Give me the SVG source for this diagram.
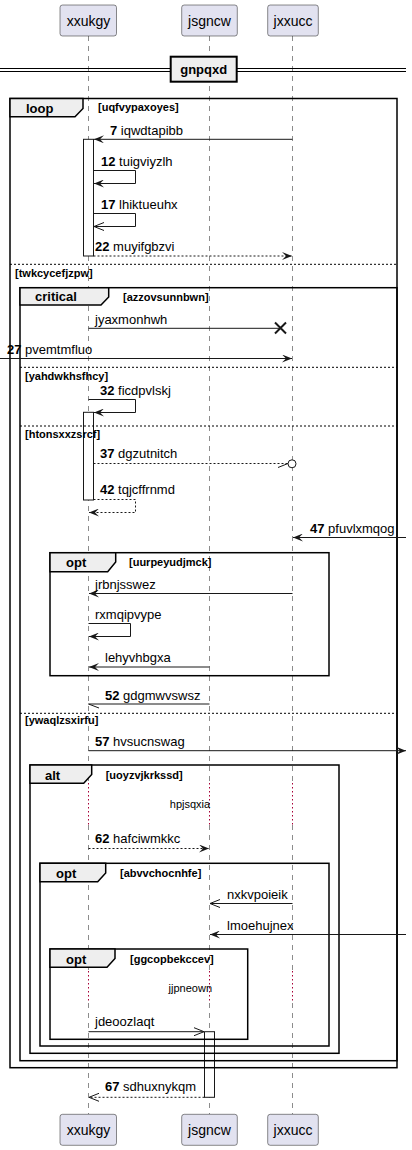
<svg xmlns="http://www.w3.org/2000/svg" width="412" height="1150" viewBox="0 0 412 1150">
  <style>
    text { font-family: "Liberation Sans", Arial, sans-serif; fill: #000; }
    .pname { font-size: 14px; text-anchor: middle; }
    .msgt { font-size: 13px; }
    .num { font-weight: bold; }
    .ftitle { font-size: 13px; font-weight: bold; }
    .cond { font-size: 11px; font-weight: bold; }
    .delayt { font-size: 11px; text-anchor: middle; }
    .part { fill: #E2E2F0; stroke: #181818; stroke-width: 0.5; }
    .life { stroke: #181818; stroke-width: 0.5; stroke-dasharray: 5,5; fill: none; }
    .delay { stroke: #A80036; stroke-width: 1; stroke-dasharray: 1.5,2.5; fill: none; }
    .act { fill: #FFFFFF; stroke: #181818; stroke-width: 1; }
    .frame { fill: none; stroke: #000; stroke-width: 1.5; }
    .tab { fill: #EEEEEE; stroke: #000; stroke-width: 1.5; }
    .sep { stroke: #000; stroke-width: 1; stroke-dasharray: 2,2; fill: none; }
    .m { stroke: #181818; stroke-width: 1; fill: none; }
    .d { stroke-dasharray: 2,2; }
  </style>
  <defs>
    <marker id="fa" viewBox="0 0 10 8" refX="10" refY="4" markerWidth="10" markerHeight="8" markerUnits="userSpaceOnUse" orient="auto">
      <path d="M0,0 L10,4 L0,8 L4,4 Z" fill="#181818"/>
    </marker>
    <marker id="oa" viewBox="-1 -1 12 10" refX="10" refY="4" markerWidth="12" markerHeight="10" markerUnits="userSpaceOnUse" orient="auto">
      <path d="M0,0 L10,4 L0,8" fill="none" stroke="#181818" stroke-width="1"/>
    </marker>
  </defs>

  <!-- lifelines -->
  <g id="lifelines">
    <path class="life" d="M88.5,36 V783 M88.5,825 V971 M88.5,1003 V1114"/>
    <path class="life" d="M209.5,36 V783 M209.5,825 V971 M209.5,1003 V1114"/>
    <path class="life" d="M292.5,36 V783 M292.5,825 V971 M292.5,1003 V1114"/>
    <path class="delay" d="M88.5,783 V825 M209.5,783 V825 M292.5,783 V825"/>
    <path class="delay" d="M88.5,971 V1003 M209.5,971 V1003 M292.5,971 V1003"/>
  </g>

  <!-- participants -->
  <g id="xxukgy">
    <rect class="part" x="60" y="5" width="56.5" height="31" rx="2.5"/>
    <text class="pname" x="88.5" y="26">xxukgy</text>
    <rect class="part" x="60" y="1114.3" width="56.5" height="31" rx="2.5"/>
    <text class="pname" x="88.5" y="1135.3">xxukgy</text>
  </g>
  <g id="jsgncw">
    <rect class="part" x="181.7" y="5" width="55.6" height="31" rx="2.5"/>
    <text class="pname" x="209.5" y="26">jsgncw</text>
    <rect class="part" x="181.7" y="1114.3" width="55.6" height="31" rx="2.5"/>
    <text class="pname" x="209.5" y="1135.3">jsgncw</text>
  </g>
  <g id="jxxucc">
    <rect class="part" x="267.7" y="5" width="50.6" height="31" rx="2.5"/>
    <text class="pname" x="293" y="26">jxxucc</text>
    <rect class="part" x="267.7" y="1114.3" width="50.6" height="31" rx="2.5"/>
    <text class="pname" x="293" y="1135.3">jxxucc</text>
  </g>

  <!-- activations -->
  <g id="activations">
    <rect class="act" x="83.5" y="139.3" width="10" height="116.7"/>
    <rect class="act" x="83.5" y="412.3" width="10" height="87.7"/>
    <rect class="act" x="204.5" y="1031.7" width="10" height="65.6"/>
  </g>

  <!-- divider -->
  <g id="divider-gnpqxd">
    <path d="M0,68.5 H406 M0,71.5 H406" stroke="#000" stroke-width="1" fill="none"/>
    <rect x="170.7" y="56.7" width="66" height="25" fill="#EEEEEE" stroke="#000" stroke-width="2"/>
    <text class="ftitle" x="203.7" y="74" text-anchor="middle">gnpqxd</text>
  </g>

  <!-- combined fragments -->
  <g id="loop-frame">
    <rect class="frame" x="10" y="98.5" width="387" height="969.2"/>
    <polygon class="tab" points="10,98.5 83,98.5 83,108.5 75,116.7 10,116.7"/>
    <text class="ftitle" x="26" y="112.5">loop</text>
    <text class="cond" x="98" y="111">[uqfvypaxoyes]</text>
    <line class="sep" x1="10" y1="264.3" x2="397" y2="264.3"/>
    <text class="cond" x="15" y="277">[twkcycefjzpw]</text>
  </g>
  <g id="critical-frame">
    <rect class="frame" x="20" y="287.7" width="377" height="773"/>
    <polygon class="tab" points="20,287.7 108.7,287.7 108.7,297 101,305 20,305"/>
    <text class="ftitle" x="35" y="301">critical</text>
    <text class="cond" x="123" y="300.5">[azzovsunnbwn]</text>
    <line class="sep" x1="20" y1="367.3" x2="397" y2="367.3"/>
    <text class="cond" x="25" y="379.5">[yahdwkhsfhcy]</text>
    <line class="sep" x1="20" y1="426" x2="397" y2="426"/>
    <text class="cond" x="25" y="437.5">[htonsxxzsrcf]</text>
    <line class="sep" x1="20" y1="713.3" x2="397" y2="713.3"/>
    <text class="cond" x="25" y="724">[ywaqlzsxirfu]</text>
  </g>
  <g id="opt-uurpeyudjmck">
    <rect class="frame" x="50" y="552.7" width="279" height="123"/>
    <polygon class="tab" points="50,552.7 115.7,552.7 115.7,562 107.7,571.7 50,571.7"/>
    <text class="ftitle" x="66" y="567">opt</text>
    <text class="cond" x="129" y="566">[uurpeyudjmck]</text>
  </g>
  <g id="alt-uoyzvjkrkssd">
    <rect class="frame" x="30" y="765" width="309" height="288.3"/>
    <polygon class="tab" points="30,765 91.7,765 91.7,774.5 83.7,783.3 30,783.3"/>
    <text class="ftitle" x="45" y="779.5">alt</text>
    <text class="cond" x="105.7" y="779">[uoyzvjkrkssd]</text>
  </g>
  <g id="opt-abvvchocnhfe">
    <rect class="frame" x="40" y="863.3" width="289" height="182.7"/>
    <polygon class="tab" points="40,863.3 105.7,863.3 105.7,873 97.7,881.7 40,881.7"/>
    <text class="ftitle" x="56" y="877.5">opt</text>
    <text class="cond" x="120" y="877">[abvvchocnhfe]</text>
  </g>
  <g id="opt-ggcopbekccev">
    <rect class="frame" x="50" y="949" width="197.7" height="90.3"/>
    <polygon class="tab" points="50,949 115,949 115,958.5 107,967.3 50,967.3"/>
    <text class="ftitle" x="66" y="963.5">opt</text>
    <text class="cond" x="130" y="963">[ggcopbekccev]</text>
  </g>

  <!-- messages -->
  <g id="connectors">
    <path class="m" d="M292.5,139.3 H94" marker-end="url(#fa)"/>
    <path class="m" d="M93.5,170.5 H135.5 V183.5 H94" marker-end="url(#fa)"/>
    <path class="m" d="M93.5,213.5 H135.5 V226.5 H94" marker-end="url(#oa)"/>
    <path class="m d" d="M93.5,256 H292" marker-end="url(#fa)"/>
    <path class="m" d="M88.5,328.3 H280.5"/>
    <path d="M275,322.5 L286,333.5 M275,333.5 L286,322.5" stroke="#181818" stroke-width="2" fill="none"/>
    <path class="m" d="M0,358.5 H292" marker-end="url(#fa)"/>
    <path class="m" d="M88.5,399.5 H135.5 V412.5 H94" marker-end="url(#fa)"/>
    <path class="m d" d="M93.5,463.5 H288"/>
    <path class="m" d="M278,467.5 L288,463.5"/>
    <circle cx="292" cy="463.8" r="4" fill="#FFFFFF" stroke="#181818" stroke-width="1"/>
    <path class="m d" d="M93.5,499.5 H135.5 V512.5 H89" marker-end="url(#fa)"/>
    <path class="m" d="M406,537.5 H293" marker-end="url(#fa)"/>
    <path class="m" d="M292.5,593.5 H89" marker-end="url(#fa)"/>
    <path class="m" d="M88.5,623.5 H130.5 V636.5 H89" marker-end="url(#fa)"/>
    <path class="m" d="M209.5,667 H89" marker-end="url(#fa)"/>
    <path class="m" d="M209.5,704 H88.5 L99,708"/>
    <path class="m" d="M88.5,750.7 H406" marker-end="url(#fa)"/>
    <path class="m d" d="M88.5,848.5 H209" marker-end="url(#fa)"/>
    <path class="m" d="M292.5,903.5 H210" marker-end="url(#oa)"/>
    <path class="m" d="M406,934.5 H210" marker-end="url(#fa)"/>
    <path class="m" d="M88.5,1031.7 H204" marker-end="url(#oa)"/>
    <path class="m d" d="M204.5,1097.3 H89" marker-end="url(#oa)"/>
  </g>

  <!-- message labels -->
  <g id="labels">
    <text class="msgt" x="110" y="135"><tspan class="num">7</tspan> iqwdtapibb</text>
    <text class="msgt" x="101" y="165.5"><tspan class="num">12</tspan> tuigviyzlh</text>
    <text class="msgt" x="101" y="208.5"><tspan class="num">17</tspan> lhiktueuhx</text>
    <text class="msgt" x="95" y="251"><tspan class="num">22</tspan> muyifgbzvi</text>
    <text class="msgt" x="95" y="323.5">jyaxmonhwh</text>
    <text class="msgt" x="7" y="354"><tspan class="num">27</tspan> pvemtmfluo</text>
    <text class="msgt" x="100" y="395"><tspan class="num">32</tspan> ficdpvlskj</text>
    <text class="msgt" x="100" y="458"><tspan class="num">37</tspan> dgzutnitch</text>
    <text class="msgt" x="100" y="494"><tspan class="num">42</tspan> tqjcffrnmd</text>
    <text class="msgt" x="310" y="532.5"><tspan class="num">47</tspan> pfuvlxmqog</text>
    <text class="msgt" x="95" y="588.5">jrbnjsswez</text>
    <text class="msgt" x="95" y="618.5">rxmqipvype</text>
    <text class="msgt" x="105" y="662">lehyvhbgxa</text>
    <text class="msgt" x="105" y="699.5"><tspan class="num">52</tspan> gdgmwvswsz</text>
    <text class="msgt" x="95" y="746"><tspan class="num">57</tspan> hvsucnswag</text>
    <text class="delayt" x="190" y="808.3">hpjsqxia</text>
    <text class="msgt" x="95" y="843"><tspan class="num">62</tspan> hafciwmkkc</text>
    <text class="msgt" x="227" y="898.5">nxkvpoieik</text>
    <text class="msgt" x="227" y="929.5">lmoehujnex</text>
    <text class="delayt" x="190.3" y="991.7">jjpneown</text>
    <text class="msgt" x="95" y="1026">jdeoozlaqt</text>
    <text class="msgt" x="105" y="1091"><tspan class="num">67</tspan> sdhuxnykqm</text>
  </g>
</svg>
